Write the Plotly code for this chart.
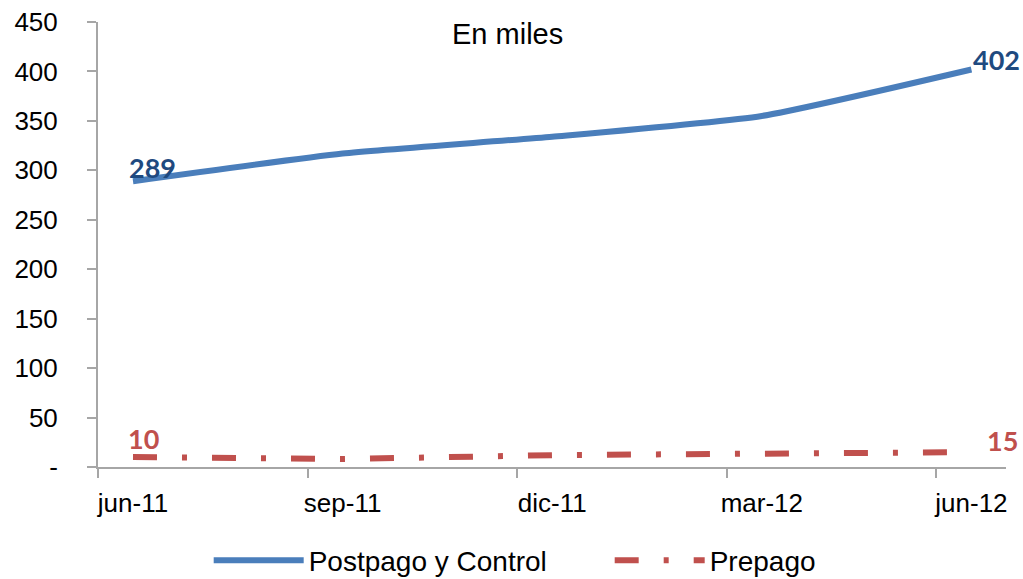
import plotly.graph_objects as go

# Quarterly subscriber counts (thousands)
periods = ["jun-11", "sep-11", "dic-11", "mar-12", "jun-12"]
postpago = [289, 317, 334, 355, 402]
prepago = [10, 8, 12, 13, 15]
y_ticks = [0, 50, 100, 150, 200, 250, 300, 350, 400, 450]
y_ticktext = ["-"] + [str(v) for v in y_ticks[1:]]

BLUE = "#4A7EBB"
BLUE_LABEL = "#1F4A80"
RED = "#C0504D"
AXIS = "#A6A6A6"
SANS = "Liberation Sans, Arial, sans-serif"
TICK_FONT = dict(family=SANS, size=26, color="#000000")
LABEL_FONT = "Lato, Calibri, sans-serif"

xpos = list(range(len(periods)))
x_range = [-0.167, 4.165]

fig = go.Figure()

fig.add_trace(go.Scatter(
    x=xpos, y=postpago, name="Postpago y Control", mode="lines",
    line=dict(color=BLUE, width=6, shape="spline", smoothing=0.5),
))
fig.add_trace(go.Scatter(
    x=xpos, y=prepago, name="Prepago", mode="lines",
    line=dict(color=RED, width=6, dash="24px,25px,5px,25px"),
))

# Value labels on first and last points
def add_label(i, values, color, dx, dy):
    fig.add_annotation(
        x=xpos[i], y=values[i], text=f"<b>{values[i]}</b>", showarrow=False,
        xshift=dx, yshift=dy, font=dict(family=LABEL_FONT, size=27, color=color),
    )

add_label(0, postpago, BLUE_LABEL, 19, 14)
add_label(-1, postpago, BLUE_LABEL, 25, 10)
add_label(0, prepago, RED, 10, 19)
add_label(-1, prepago, RED, 31, 12)

fig.add_annotation(
    x=0.4515, y=0.972, xref="paper", yref="paper", text="En miles",
    showarrow=False, xanchor="center", yanchor="middle",
    font=dict(family=SANS, size=29, color="#000000"),
)

fig.update_layout(
    width=1023, height=579,
    margin=dict(l=98, r=17, t=22, b=112, autoexpand=False),
    paper_bgcolor="white", plot_bgcolor="white",
    showlegend=True,
    legend=dict(
        orientation="h", xref="container", yref="container",
        x=0.204, xanchor="left", y=0.032, yanchor="middle",
        font=dict(family=SANS, size=28, color="#000000"),
        itemwidth=90, entrywidth=296, entrywidthmode="pixels",
        bgcolor="rgba(0,0,0,0)",
    ),
    xaxis=dict(
        range=x_range, tickmode="array", tickvals=xpos, ticktext=periods,
        ticks="", showline=True, linecolor=AXIS, linewidth=2, automargin=False,
        showgrid=False, zeroline=False, tickfont=TICK_FONT, ticklabelstandoff=12,
    ),
    # Tick marks between periods, drawn on an overlaid axis
    xaxis2=dict(
        range=x_range, overlaying="x", anchor="y", side="bottom", automargin=False,
        tickmode="array", tickvals=[v - 0.167 for v in xpos],
        ticks="outside", ticklen=10, tickwidth=2, tickcolor=AXIS,
        showticklabels=False, showline=False, showgrid=False, zeroline=False,
    ),
    yaxis=dict(
        range=[0, 450], tickmode="array", tickvals=y_ticks, ticktext=y_ticktext,
        ticks="outside", ticklen=9, tickwidth=2, tickcolor=AXIS, automargin=False,
        showline=True, linecolor=AXIS, linewidth=2,
        showgrid=False, zeroline=False, tickfont=TICK_FONT, ticklabelstandoff=24,
    ),
)

# Invisible trace so the overlaid tick axis is rendered
fig.add_trace(go.Scatter(x=[x_range[0]], y=[0], xaxis="x2", yaxis="y",
                         mode="markers", marker=dict(opacity=0),
                         showlegend=False, hoverinfo="skip"))

fig.write_html("out.html")
